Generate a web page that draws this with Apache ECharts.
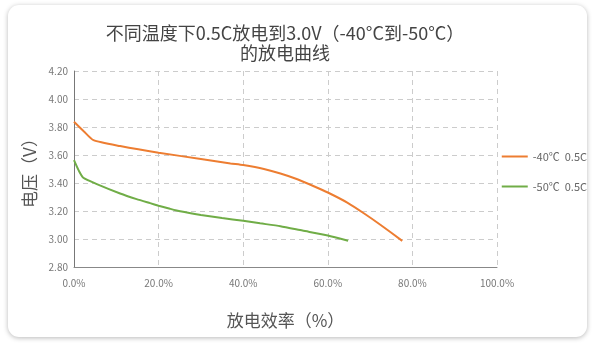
<!DOCTYPE html>
<html><head><meta charset="utf-8">
<script src="https://cdn.jsdelivr.net/npm/echarts@6/dist/echarts.min.js"></script>
<style>
html,body{margin:0;padding:0;background:#fff;width:596px;height:349px;overflow:hidden;}
#card{position:absolute;left:8px;top:5px;width:579px;height:332px;border-radius:11px;background:#fff;box-shadow:0 1px 5px rgba(0,0,0,0.28);}
#chart{position:absolute;left:0;top:0;width:596px;height:349px;}
</style></head>
<body><div id="card"></div><div id="chart"></div>
<script>
const titleText = '不同温度下0.5C放电到3.0V（-40°C到-50°C）\n的放电曲线';
const xAxisName = '放电效率（%）';
const yAxisName = '电压（V）';
const seriesNames = ['-40℃  0.5C', '-50℃  0.5C'];
const orangeX = [0, 2.3, 4.6, 10.9, 20, 30, 37, 40, 44.9, 48.8, 52.8, 56.7, 60, 64.6, 68.6, 72.5, 77.6];
const orangeY = [3.837, 3.77, 3.706, 3.664, 3.616, 3.572, 3.54, 3.528, 3.50, 3.468, 3.427, 3.377, 3.332, 3.26, 3.182, 3.10, 2.987];
const greenX = [0, 1.1, 2.2, 5.4, 10.9, 14.8, 18, 20, 22.7, 25.1, 30, 35, 40, 44, 48.8, 54, 60, 64.8];
const greenY = [3.563, 3.49, 3.437, 3.392, 3.325, 3.285, 3.256, 3.238, 3.216, 3.198, 3.172, 3.15, 3.13, 3.112, 3.091, 3.06, 3.025, 2.987];
const colors = ['#ED7D31', '#70AD47'];

const font = "'Noto Sans CJK SC', 'Noto Sans', sans-serif";
const chart = echarts.init(document.getElementById('chart'), null, {renderer:'canvas'});
const zip = (xs, ys) => xs.map((x, i) => [x, ys[i]]);
chart.setOption({
  animation: false,
  textStyle: {fontFamily: font},
  title: {text: titleText, left: 280, top: 18, textAlign: 'center',
    textStyle: {fontSize: 18, fontWeight: 'normal', color: '#444', lineHeight: 20, fontFamily: font}},
  legend: {orient: 'vertical', right: 4, top: 146, itemGap: 19, itemWidth: 26, itemHeight: 2,
    icon: 'rect', textStyle: {fontSize: 11, color: '#666', fontFamily: font},
    data: seriesNames},
  grid: {left: 74, right: 99, top: 71, bottom: 82},
  xAxis: {type: 'value', min: 0, max: 100, interval: 20,
    name: xAxisName, nameLocation: 'middle', nameGap: 45,
    nameTextStyle: {fontSize: 17, color: '#555', fontFamily: font},
    axisLine: {show: true, lineStyle: {color: '#888', width: 1}},
    axisTick: {show: false},
    axisLabel: {fontSize: 10, color: '#777', margin: 11, formatter: v => v.toFixed(1) + '%'},
    splitLine: {show: true, lineStyle: {type: [5, 4], color: '#ccc'}}},
  yAxis: {type: 'value', min: 2.8, max: 4.2, interval: 0.2,
    name: yAxisName, nameLocation: 'middle', nameGap: 33, nameRotate: 90,
    nameTextStyle: {fontSize: 17, color: '#555', fontFamily: font},
    axisLine: {show: true, lineStyle: {color: '#777', width: 1}},
    axisTick: {show: false},
    axisLabel: {fontSize: 10, color: '#777', margin: 6, formatter: v => v.toFixed(2)},
    splitLine: {show: true, lineStyle: {type: [5, 4], color: '#ccc'}}},
  series: [
    {name: seriesNames[0], type: 'line', data: zip(orangeX, orangeY), showSymbol: false, smooth: 0.2,
      lineStyle: {color: colors[0], width: 2}, itemStyle: {color: colors[0]}},
    {name: seriesNames[1], type: 'line', data: zip(greenX, greenY), showSymbol: false, smooth: 0.2,
      lineStyle: {color: colors[1], width: 2}, itemStyle: {color: colors[1]}}
  ]
});
</script></body></html>
